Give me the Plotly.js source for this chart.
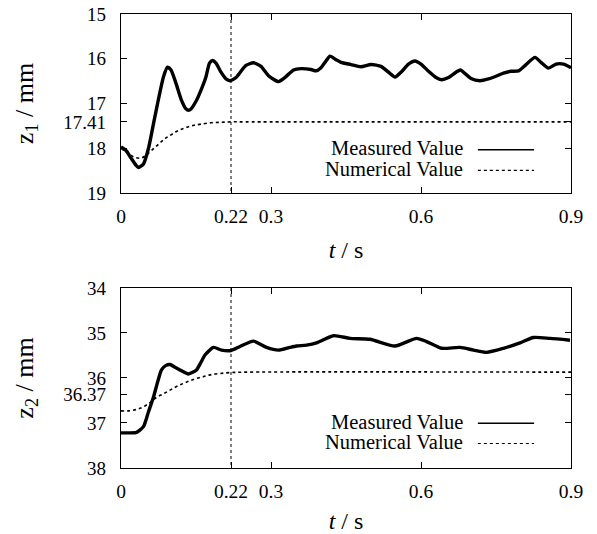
<!DOCTYPE html>
<html>
<head>
<meta charset="utf-8">
<script src="https://cdn.plot.ly/plotly-3.0.1.min.js"></script>
<style>html,body{margin:0;padding:0;background:#fff;}#chart{width:597px;height:534px;}</style>
</head>
<body>
<div id="chart"></div>
<script>
// ---- Data ----
const tMeas1 = [0,0.01,0.02,0.03,0.035,0.045,0.055,0.065,0.075,0.085,0.093,0.1,0.11,0.12,0.13,0.135,0.14,0.15,0.16,0.17,0.177,0.183,0.19,0.2,0.21,0.218,0.23,0.24,0.25,0.265,0.28,0.295,0.315,0.33,0.345,0.36,0.38,0.39,0.4,0.41,0.418,0.43,0.44,0.46,0.48,0.5,0.52,0.535,0.548,0.56,0.575,0.588,0.6,0.615,0.63,0.641,0.655,0.67,0.679,0.69,0.7,0.718,0.735,0.75,0.765,0.78,0.795,0.81,0.828,0.84,0.855,0.87,0.885,0.9];
const z1Meas = [17.97,18.05,18.22,18.38,18.43,18.35,18.0,17.45,16.9,16.4,16.19,16.25,16.55,16.9,17.12,17.15,17.12,16.95,16.7,16.4,16.1,16.04,16.1,16.3,16.45,16.49,16.42,16.28,16.15,16.09,16.17,16.38,16.51,16.4,16.25,16.22,16.24,16.27,16.2,16.05,15.94,16.02,16.08,16.13,16.18,16.13,16.17,16.3,16.41,16.3,16.12,16.05,16.12,16.28,16.42,16.47,16.42,16.3,16.25,16.35,16.44,16.49,16.45,16.39,16.32,16.28,16.27,16.13,15.97,16.08,16.21,16.12,16.12,16.2];

const tNum1 = [0,0.01,0.02,0.03,0.04,0.05,0.06,0.07,0.08,0.09,0.1,0.11,0.12,0.13,0.14,0.15,0.16,0.18,0.2,0.22,0.25,0.9];
const z1Num = [18.0,18.08,18.16,18.21,18.22,18.16,18.06,17.96,17.86,17.77,17.7,17.63,17.58,17.54,17.5,17.48,17.46,17.43,17.42,17.41,17.41,17.41];

const tMeas2 = [0,0.015,0.031,0.045,0.055,0.065,0.073,0.081,0.09,0.098,0.108,0.118,0.135,0.151,0.16,0.168,0.185,0.201,0.22,0.238,0.265,0.291,0.315,0.338,0.351,0.371,0.391,0.425,0.458,0.498,0.548,0.591,0.611,0.641,0.678,0.705,0.731,0.765,0.798,0.825,0.858,0.898];
const z2Meas = [37.22,37.22,37.21,37.08,36.75,36.42,36.1,35.82,35.72,35.7,35.76,35.82,35.91,35.82,35.65,35.49,35.32,35.38,35.39,35.3,35.18,35.32,35.38,35.32,35.29,35.27,35.22,35.06,35.12,35.14,35.29,35.12,35.19,35.34,35.32,35.38,35.43,35.34,35.22,35.1,35.12,35.16];

const tNum2 = [0,0.015,0.031,0.041,0.051,0.061,0.071,0.085,0.098,0.111,0.125,0.138,0.151,0.165,0.178,0.198,0.218,0.25,0.9];
const z2Num = [36.73,36.73,36.7,36.66,36.6,36.52,36.43,36.35,36.27,36.19,36.12,36.06,36.01,35.97,35.93,35.9,35.88,35.87,35.87];

const xTicks = [0,0.22,0.3,0.6,0.9];
const y1Ticks = [15,16,17,17.41,18,19];
const y2Ticks = [34,35,36,36.37,37,38];
const markerT = 0.22;
const seriesNames = ["Measured Value","Numerical Value"];

// ---- Style ----
function tf(size) { return {family: "Liberation Serif", size: size, color: "#000"}; }

function xa(anchor) {
  return {
    anchor: anchor, range: [0, 0.9], tickvals: xTicks, ticktext: xTicks.map(String),
    ticks: "inside", ticklen: 6, tickcolor: "#000", mirror: "ticks", showline: true,
    linecolor: "#000", linewidth: 1.2, showgrid: false, zeroline: false,
    tickfont: tf(19.5), ticklabelstandoff: 5,
    title: {text: "<i>t</i> / s", font: tf(24), standoff: 15}
  };
}
function ya(anchor, range, ticks, domain, title) {
  return {
    anchor: anchor, range: range, tickvals: ticks, ticktext: ticks.map(String), domain: domain,
    ticks: "inside", ticklen: 6, tickcolor: "#000", mirror: "ticks", showline: true,
    linecolor: "#000", linewidth: 1.2, showgrid: false, zeroline: false,
    tickfont: tf(19), ticklabelstandoff: 10, title: {text: title, font: tf(26), standoff: 22}
  };
}

const measLine = {color: "#000", width: 3.4, shape: "spline", smoothing: 0.6};
const numLine = {color: "#000", width: 1.6, dash: "dot", shape: "spline"};
const vLine = {color: "#000", width: 1, dash: "3px,3px"};

const traces = [
  {x: tMeas1, y: z1Meas, xaxis: "x", yaxis: "y", mode: "lines", line: measLine, name: seriesNames[0]},
  {x: tNum1, y: z1Num, xaxis: "x", yaxis: "y", mode: "lines", line: numLine, name: seriesNames[1]},
  {x: [markerT, markerT], y: [15, 19], xaxis: "x", yaxis: "y", mode: "lines", line: vLine, hoverinfo: "skip"},
  {x: tMeas2, y: z2Meas, xaxis: "x2", yaxis: "y2", mode: "lines", line: measLine, name: seriesNames[0]},
  {x: tNum2, y: z2Num, xaxis: "x2", yaxis: "y2", mode: "lines", line: numLine, name: seriesNames[1]},
  {x: [markerT, markerT], y: [34, 38], xaxis: "x2", yaxis: "y2", mode: "lines", line: vLine, hoverinfo: "skip"}
];

// legend drawn gnuplot style: text right-aligned, line sample to its right
const legendPos = [{yr: "y domain", ys: [0.252, 0.136]}, {yr: "y2 domain", ys: [0.258, 0.146]}];
const annotations = [];
const shapes = [];
legendPos.forEach((p, k) => {
  const xr = k === 0 ? "x domain" : "x2 domain";
  p.ys.forEach((yy, i) => {
    annotations.push({xref: xr, yref: p.yr, x: 0.764, y: yy, xanchor: "right", yanchor: "middle",
      text: seriesNames[i], showarrow: false, font: tf(20.5)});
    shapes.push({type: "line", xref: xr, yref: p.yr, x0: 0.793, x1: 0.918, y0: yy - 0.01, y1: yy - 0.01,
      line: {color: "#000", width: i === 0 ? 1.5 : 1.2, dash: i === 0 ? "solid" : "dot"}});
  });
});

const layout = {
  width: 597, height: 534,
  margin: {l: 121, r: 26, t: 14, b: 66},
  paper_bgcolor: "#fff", plot_bgcolor: "#fff",
  font: tf(20),
  showlegend: false,
  xaxis: xa("y"),
  yaxis: ya("x", [19, 15], y1Ticks, [0.6057, 1], "z<sub>1</sub> / mm"),
  xaxis2: xa("y2"),
  yaxis2: ya("x2", [38, 34], y2Ticks, [0, 0.3965], "z<sub>2</sub> / mm"),
  annotations: annotations,
  shapes: shapes
};

Plotly.newPlot("chart", traces, layout, {staticPlot: true});
</script>
</body>
</html>
